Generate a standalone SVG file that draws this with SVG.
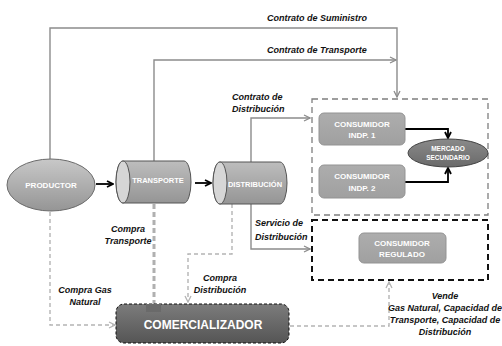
<svg xmlns="http://www.w3.org/2000/svg" width="502" height="346" viewBox="0 0 502 346">
<style>
.lbl{font-family:"Liberation Sans",Arial,sans-serif;font-size:9px;font-weight:bold;font-style:italic;fill:#111}
.nt{font-family:"Liberation Sans",Arial,sans-serif;font-weight:bold;fill:#fff;text-anchor:middle}
.ln{fill:none;stroke:#8c8c8c;stroke-width:1.4}
.bk{fill:none;stroke:#000;stroke-width:1.8}
.dg{fill:none;stroke:#b4b4b4;stroke-width:1.4;stroke-dasharray:4 3}
.cons{fill:url(#gCons);stroke:#939393;stroke-width:1}
</style>
<defs>
<linearGradient id="gProd" x1="0" y1="0" x2="0" y2="1"><stop offset="0" stop-color="#c8c8c8"/><stop offset="1" stop-color="#959595"/></linearGradient>
<linearGradient id="gCyl" x1="0" y1="0" x2="0" y2="1"><stop offset="0" stop-color="#bdbdbd"/><stop offset="1" stop-color="#959595"/></linearGradient>
<linearGradient id="gCons" x1="0" y1="0" x2="0" y2="1"><stop offset="0" stop-color="#adadad"/><stop offset="1" stop-color="#a0a0a0"/></linearGradient>
<linearGradient id="gCom" x1="0" y1="0" x2="0" y2="1"><stop offset="0" stop-color="#7c7c7c"/><stop offset="1" stop-color="#555"/></linearGradient>
<linearGradient id="gMer" x1="0" y1="0" x2="0" y2="1"><stop offset="0" stop-color="#8a8a8a"/><stop offset="1" stop-color="#6a6a6a"/></linearGradient>
<marker id="ag" viewBox="0 0 8 8" refX="7" refY="4" markerWidth="8" markerHeight="8" markerUnits="userSpaceOnUse" orient="auto"><path d="M1,1 L7,4 L1,7" fill="none" stroke="#8c8c8c" stroke-width="1.3"/></marker>
<marker id="al" viewBox="0 0 8 8" refX="7" refY="4" markerWidth="8" markerHeight="8" markerUnits="userSpaceOnUse" orient="auto"><path d="M1,1 L7,4 L1,7" fill="none" stroke="#b4b4b4" stroke-width="1.3"/></marker>
<marker id="ab" viewBox="0 0 8 8" refX="7" refY="4" markerWidth="8" markerHeight="8" markerUnits="userSpaceOnUse" orient="auto"><path d="M1,1 L7,4 L1,7" fill="none" stroke="#000" stroke-width="1.8"/></marker>
</defs>
<rect width="502" height="346" fill="#fff"/>

<g id="connectors">
<path class="ln" d="M50,160 V28 H397 V97" marker-end="url(#ag)"/>
<path class="ln" d="M154,161 V60 H396" marker-end="url(#ag)"/>
<path class="ln" d="M251,162 V118 H310" marker-end="url(#ag)"/>
<path class="ln" d="M251,203 V249 H310" marker-end="url(#ag)"/>
<path class="bk" d="M96,184 H113" marker-end="url(#ab)"/>
<path class="bk" d="M195,183 H211" marker-end="url(#ab)"/>
<path class="bk" d="M405,129 H448 V138" marker-end="url(#ab)"/>
<path class="bk" d="M405,182 H448 V168" marker-end="url(#ab)"/>
<path class="dg" d="M50,212 V325 H115" marker-end="url(#al)"/>
<path fill="none" stroke="#b0b0b0" stroke-width="3" stroke-dasharray="5 3" d="M154,204 V304"/>
<path class="dg" d="M232,204 V254 H188 V302" marker-end="url(#al)"/>
<path class="dg" d="M290,326 H389 V282" marker-end="url(#al)"/>
</g>

<g id="labels">
<text class="lbl" x="267" y="21">Contrato de Suministro</text>
<text class="lbl" x="267" y="53">Contrato de Transporte</text>
<text class="lbl" x="232" y="100">Contrato de</text>
<text class="lbl" x="232" y="112">Distribución</text>
<text class="lbl" x="255" y="226">Servicio de</text>
<text class="lbl" x="255" y="240">Distribución</text>
<text class="lbl" x="128" y="232" text-anchor="middle">Compra</text>
<text class="lbl" x="128" y="244" text-anchor="middle">Transporte</text>
<text class="lbl" x="85" y="293" text-anchor="middle">Compra Gas</text>
<text class="lbl" x="85" y="305" text-anchor="middle">Natural</text>
<text class="lbl" x="220" y="281" text-anchor="middle">Compra</text>
<text class="lbl" x="220" y="293" text-anchor="middle">Distribución</text>
<text class="lbl" x="445" y="299" text-anchor="middle" font-size="8.6">Vende</text>
<text class="lbl" x="445" y="311" text-anchor="middle" font-size="8.6">Gas Natural, Capacidad de</text>
<text class="lbl" x="445" y="323" text-anchor="middle" font-size="8.6">Transporte, Capacidad de</text>
<text class="lbl" x="445" y="335" text-anchor="middle" font-size="8.6">Distribución</text>
</g>

<g id="box-independientes">
<rect x="312" y="99" width="176" height="116" fill="none" stroke="#7f7f7f" stroke-width="1.3" stroke-dasharray="6 4"/>
</g>
<g id="box-regulados">
<rect x="312" y="220" width="176" height="60" fill="none" stroke="#111" stroke-width="2" stroke-dasharray="6 4"/>
</g>

<g id="productor">
<ellipse cx="51" cy="185" rx="44" ry="26" fill="url(#gProd)" stroke="#6a6a6a" stroke-width="1"/>
<text class="nt" x="51" y="188" font-size="8">PRODUCTOR</text>
</g>

<g id="transporte">
<path d="M123,161 H184 A7,21 0 0 1 184,203 H123 A7,21 0 0 1 123,161 Z" fill="url(#gCyl)" stroke="#555" stroke-width="1"/>
<ellipse cx="123" cy="182" rx="7" ry="21" fill="#d6d6d6" stroke="#555" stroke-width="1"/>
<text class="nt" x="158" y="183" font-size="7.5">TRANSPORTE</text>
</g>

<g id="distribucion">
<path d="M220,162 H280 A7,21 0 0 1 280,204 H220 A7,21 0 0 1 220,162 Z" fill="url(#gCyl)" stroke="#555" stroke-width="1"/>
<ellipse cx="220" cy="183" rx="7" ry="21" fill="#d6d6d6" stroke="#555" stroke-width="1"/>
<text class="nt" x="255" y="187" font-size="7.5">DISTRIBUCIÓN</text>
</g>

<g id="consumidor-indp-1">
<rect class="cons" x="319" y="113" width="86" height="32" rx="5"/>
<text class="nt" x="362" y="127" font-size="8">CONSUMIDOR</text>
<text class="nt" x="362" y="138" font-size="8">INDP. 1</text>
</g>

<g id="consumidor-indp-2">
<rect class="cons" x="319" y="165" width="86" height="33" rx="5"/>
<text class="nt" x="362" y="179" font-size="8">CONSUMIDOR</text>
<text class="nt" x="362" y="191" font-size="8">INDP. 2</text>
</g>

<g id="mercado-secundario">
<ellipse cx="448" cy="153" rx="40" ry="14" fill="url(#gMer)" stroke="#444" stroke-width="1"/>
<text class="nt" x="448" y="151" font-size="6.5">MERCADO</text>
<text class="nt" x="448" y="160" font-size="6.5">SECUNDARIO</text>
</g>

<g id="consumidor-regulado">
<rect class="cons" x="359" y="233" width="87" height="30" rx="5"/>
<text class="nt" x="402" y="246" font-size="8">CONSUMIDOR</text>
<text class="nt" x="402" y="257" font-size="8">REGULADO</text>
</g>

<g id="comercializador">
<rect x="116" y="304" width="173" height="39" rx="8" fill="url(#gCom)" stroke="#111" stroke-width="1" stroke-dasharray="3 2"/>
<rect x="146" y="304" width="15" height="8" fill="#6a6a6a"/>
<text class="nt" x="203" y="329" font-size="12" font-weight="normal">COMERCIALIZADOR</text>
</g>
</svg>
